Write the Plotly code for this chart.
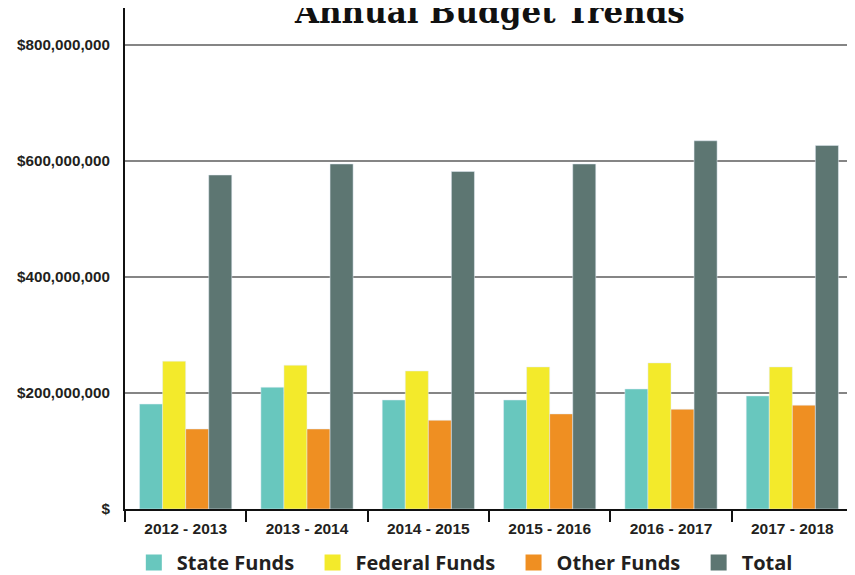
import plotly.graph_objects as go

years = ['2012 - 2013', '2013 - 2014', '2014 - 2015', '2015 - 2016', '2016 - 2017', '2017 - 2018']
state_funds = [181e6, 210e6, 188e6, 188e6, 207e6, 195e6]
federal_funds = [255e6, 248e6, 238e6, 245e6, 252e6, 245e6]
other_funds = [138e6, 138e6, 153e6, 164e6, 172e6, 179e6]
total = [576e6, 595e6, 582e6, 595e6, 635e6, 627e6]

y_ticks = [0, 200e6, 400e6, 600e6, 800e6]
y_tick_text = ['$', '$200,000,000', '$400,000,000', '$600,000,000', '$800,000,000']

series = [
    ('State Funds', state_funds, '#68C7BE'),
    ('Federal Funds', federal_funds, '#F3EA2B'),
    ('Other Funds', other_funds, '#EF8F22'),
    ('Total', total, '#5D7672'),
]

label_font = 'Liberation Sans, Arial'
text_color = '#231F20'

fig = go.Figure()
for name, values, color in series:
    fig.add_trace(go.Bar(x=years, y=values, name=name, marker_color=color, showlegend=False))
# legend-only entries so the swatches come out as big squares
for name, values, color in series:
    fig.add_trace(go.Scatter(
        x=[None], y=[None], mode='markers', name=name + '\u00a0\u00a0',
        marker=dict(symbol='square', size=18, color=color),
    ))

fig.update_layout(
    width=847, height=567,
    margin=dict(l=117, r=2, t=0, b=66, autoexpand=False),
    plot_bgcolor='white', paper_bgcolor='white',
    barmode='group', bargap=0.24, bargroupgap=0,
    showlegend=True,
    legend=dict(
        orientation='h', x=0.008, xanchor='left', y=-0.068, yanchor='top',
        font=dict(family='Open Sans', size=20, color=text_color, weight='bold'),
        itemwidth=36, traceorder='normal', itemsizing='trace',
    ),
    annotations=[dict(
        text='<b>Annual Budget Trends</b>', x=0.5, xref='paper', y=0.952, yref='paper',
        xanchor='center', yanchor='bottom', showarrow=False,
        font=dict(family='DejaVu Serif', size=31, color='#111111'),
    )],
)

fig.update_xaxes(
    automargin=False,
    showline=True, linecolor='#111111', linewidth=2,
    ticks='outside', tickson='boundaries', ticklen=11, tickwidth=2, tickcolor='#111111',
    ticklabelstandoff=4,
    tickfont=dict(family=label_font, size=15.5, color=text_color, weight='bold'),
    showgrid=False,
)
fig.update_yaxes(
    automargin=False,
    range=[0, 864e6], tickvals=y_ticks, ticktext=y_tick_text,
    showline=True, linecolor='#111111', linewidth=2,
    showgrid=True, gridcolor='#858585', gridwidth=1.5,
    zeroline=False, ticks='', ticklabelstandoff=10,
    tickfont=dict(family=label_font, size=15.2, color=text_color, weight='bold'),
)

fig.write_html('out.html')
